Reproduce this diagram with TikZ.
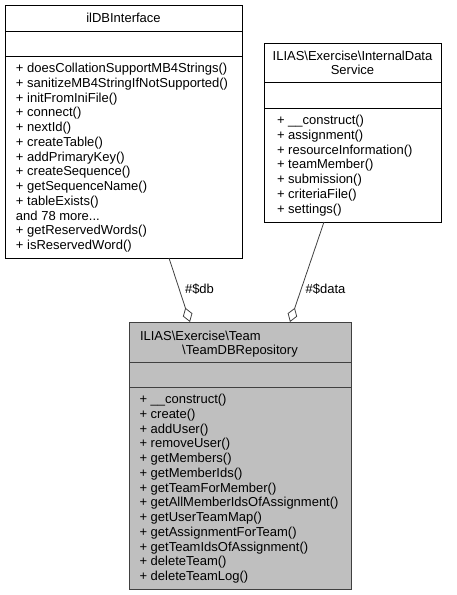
\documentclass[tikz,border=0pt]{standalone}
\usepackage{fontspec}
\setmainfont{Liberation Sans}
\usetikzlibrary{arrows.meta}
\definecolor{edgegray}{RGB}{64,64,64}
\definecolor{fillgray}{RGB}{191,191,191}
\newcommand{\threedots}{...}
\begin{document}
\begin{tikzpicture}[x=1pt,y=-1pt,
  every node/.style={font=\fontsize{13}{14.75}\selectfont, inner sep=0pt, outer sep=0pt},
  classbox/.style={draw=black, line width=0.9pt, anchor=north west, rectangle},
  mainbox/.style={draw=edgegray, fill=fillgray, line width=1pt, anchor=north west, rectangle},
  sepline/.style={draw=black, line width=0.9pt},
  mainsep/.style={draw=edgegray, line width=1pt},
  member/.style={anchor=base west},
  ctitle/.style={anchor=base},
  assoc/.style={draw=edgegray, line width=0.8pt, -{Diamond[open, length=15pt, width=10pt, line width=0.8pt]}},
  elabel/.style={anchor=center}]
\useasboundingbox (0,0) rectangle (456,595);

% ---------- ilDBInterface ----------
\node[classbox, minimum width=237pt, minimum height=253pt] (db) at (5,5) {};
\draw[sepline] (db.west |- 0,31) -- (db.east |- 0,31);
\draw[sepline] (db.west |- 0,56) -- (db.east |- 0,56);
\node[ctitle] (dbtitle) at (123.5,22.6) {ilDBInterface};
\foreach \t [count=\i from 0] in {%
  + doesCollationSupportMB4Strings(),
  + sanitizeMB4StringIfNotSupported(),
  + initFromIniFile(),
  + connect(),
  + nextId(),
  + createTable(),
  + addPrimaryKey(),
  + createSequence(),
  + getSequenceName(),
  + tableExists(),
  {and 78 more\threedots},
  + getReservedWords(),
  + isReservedWord()}
  \node[member] (dbm\i) at (16, 72.5+\i*14.75) {\t};

% ---------- InternalDataService ----------
\node[classbox, minimum width=177pt, minimum height=179pt] (ids) at (264,43) {};
\draw[sepline] (ids.west |- 0,82) -- (ids.east |- 0,82);
\draw[sepline] (ids.west |- 0,108) -- (ids.east |- 0,108);
\node[ctitle] (idst1) at (352.5,60) {ILIAS\textbackslash Exercise\textbackslash InternalData};
\node[ctitle] (idst2) at (352.5,74.75) {Service};
\foreach \t [count=\i from 0] in {%
  + \_\_construct(),
  + assignment(),
  + resourceInformation(),
  + teamMember(),
  + submission(),
  + criteriaFile(),
  + settings()}
  \node[member] (idsm\i) at (277, 124.5+\i*14.75) {\t};

% ---------- TeamDBRepository ----------
\node[mainbox, minimum width=222pt, minimum height=267pt] (repo) at (129,322) {};
\draw[mainsep] (repo.west |- 0,362.5) -- (repo.east |- 0,362.5);
\draw[mainsep] (repo.west |- 0,387) -- (repo.east |- 0,387);
\node[member] (repot1) at (140,340) {ILIAS\textbackslash Exercise\textbackslash Team};
\node[ctitle] (repot2) at (240,354.75) {\textbackslash TeamDBRepository};
\foreach \t [count=\i from 0] in {%
  + \_\_construct(),
  + create(),
  + addUser(),
  + removeUser(),
  + getMembers(),
  + getMemberIds(),
  + getTeamForMember(),
  + getAllMemberIdsOfAssignment(),
  + getUserTeamMap(),
  + getAssignmentForTeam(),
  + getTeamIdsOfAssignment(),
  + deleteTeam(),
  + deleteTeamLog()}
  \node[member] (repom\i) at (139.5, 403.5+\i*14.75) {\t};

% ---------- connectors ----------
\draw[assoc] ([xshift=45.5pt]db.south) -- ([xshift=-50pt]repo.north);
\draw[assoc] ([xshift=-28.5pt]ids.south) -- ([xshift=50pt]repo.north);
\node[elabel] (ldb) at (199.5,289) {\#\$db};
\node[elabel] (ldata) at (325.5,289) {\#\$data};
\end{tikzpicture}
\end{document}
